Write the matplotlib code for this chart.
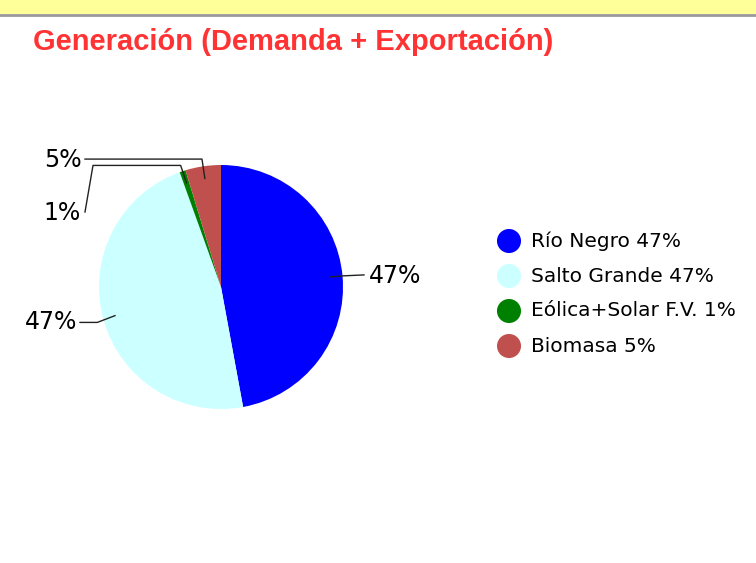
import numpy as np
import matplotlib.pyplot as plt
from matplotlib.patches import Rectangle

title = 'Generación (Demanda + Exportación)'
names = ['Río Negro', 'Salto Grande', 'Eólica+Solar F.V.', 'Biomasa']
shares = [47.1, 47.4, 0.8, 4.7]
pct = ['47%', '47%', '1%', '5%']
colors = ['#0000FF', '#CCFFFF', '#008000', '#C0504D']

W, H = 756, 563
fig = plt.figure(figsize=(W / 100, H / 100), dpi=100)
ax = fig.add_axes([0, 0, 1, 1])

# pie in pixel coords (y axis flipped, so counterclock=True draws clockwise on screen)
cx, cy, r = 221, 287, 122
wedges, _ = ax.pie(shares, colors=colors, center=(cx, cy), radius=r,
                   startangle=-90, counterclock=True,
                   wedgeprops=dict(linewidth=0))
ax.set_xlim(0, W)
ax.set_ylim(H, 0)
ax.set_aspect('equal')
ax.axis('off')

# top banner
ax.add_patch(Rectangle((0, 0), W, 14, facecolor='#FFFF99', edgecolor='none', zorder=0))
ax.plot([0, W], [14.5, 14.5], color='#999999', lw=2)

ax.text(33, 42, title, color='#FF3333', fontsize=21, fontweight='bold',
        family='Liberation Sans', va='center', ha='left')

def pt(theta, k):
    t = np.deg2rad(theta)
    return cx + k * r * np.cos(t), cy + k * r * np.sin(t)

lc = '#222222'
fs = 17
mids = [(w.theta1 + w.theta2) / 2 for w in wedges]

# Río Negro label (right)
x0, y0 = pt(mids[0], 0.9)
x1, y1 = pt(mids[0], 1.0)
ax.plot([x0, x1, 364], [y0, y1, y1 - 1], color=lc, lw=1)
ax.text(369, y1, pct[0], fontsize=fs, va='center', ha='left')

# Salto Grande label (left)
x0, y0 = pt(mids[1], 0.9)
x1, y1 = pt(mids[1], 1.05)
ax.plot([x0, x1, 80], [y0, y1 + 2, y1 + 2], color=lc, lw=1)
ax.text(77, y1 + 2, pct[1], fontsize=fs, va='center', ha='right')

# Eólica label (routed above the pie)
x0, y0 = pt(mids[2], 0.9)
x1, y1 = pt(mids[2], 1.05)
ax.plot([x0, x1, 93, 85], [y0, y1, y1, 212], color=lc, lw=1)
ax.text(81, 213, pct[2], fontsize=fs, va='center', ha='right')

# Biomasa label
x0, y0 = pt(mids[3], 0.9)
x1, y1 = pt(mids[3], 1.06)
ax.plot([x0, x1, 85], [y0, y1, y1], color=lc, lw=1)
ax.text(82, 160, pct[3], fontsize=fs, va='center', ha='right')

# legend
for i, (n, p, c) in enumerate(zip(names, pct, colors)):
    ly = 241 + 35 * i
    ax.scatter([509], [ly], s=300, color=c, edgecolors='none')
    ax.text(531, ly, n + ' ' + p, fontsize=14.5, va='center', ha='left')

fig.savefig('out.png', dpi=100)
